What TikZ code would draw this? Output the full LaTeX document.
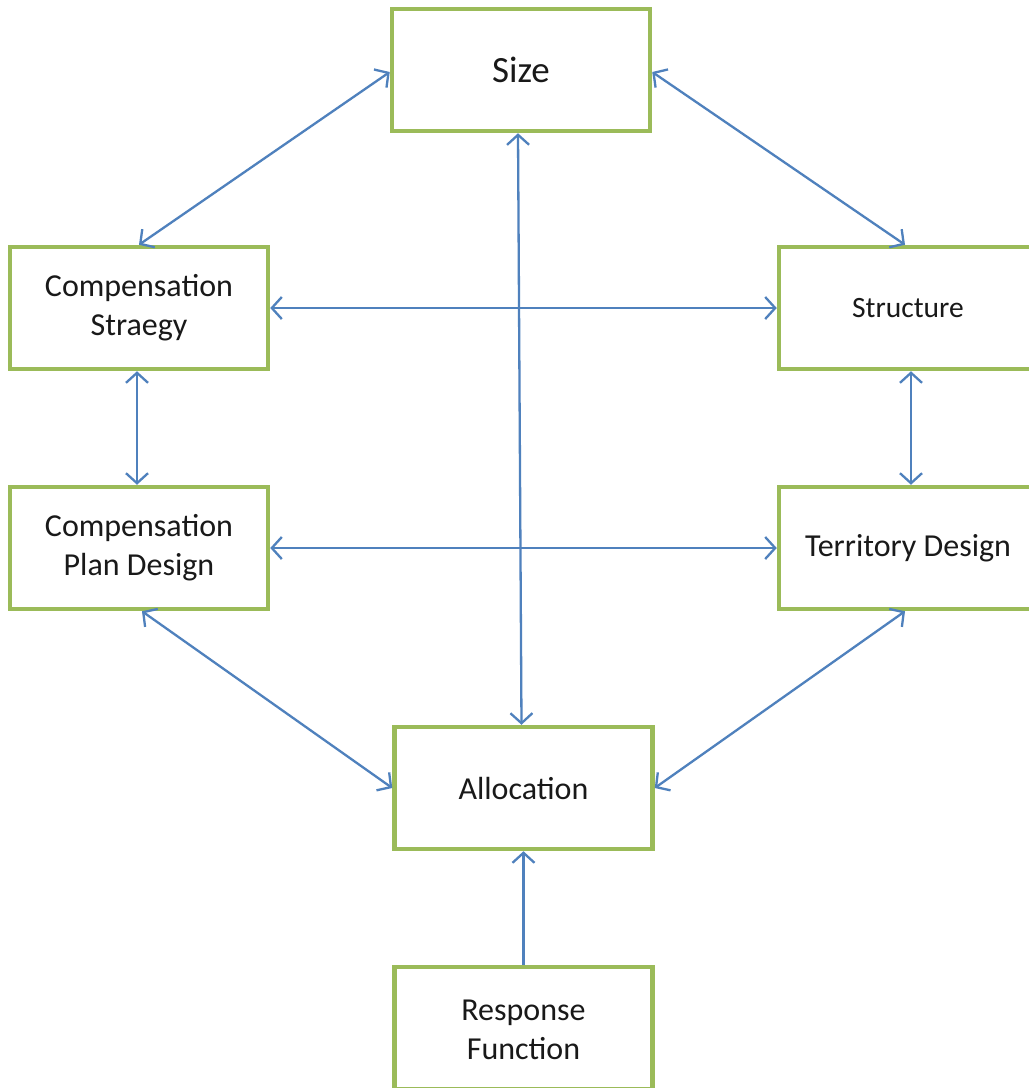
\documentclass[tikz,border=0pt]{standalone}
\usepackage{fontspec}
\setmainfont{Carlito}
\usetikzlibrary{arrows.meta}
\definecolor{boxgreen}{RGB}{155,187,89}
\definecolor{arrowblue}{RGB}{79,129,189}
\begin{document}
\begin{tikzpicture}[x=1pt,y=-1pt,
  box/.style={draw=boxgreen,line width=4.5pt,fill=white,minimum width=258pt,minimum height=122pt,inner sep=0pt,align=center,font=\fontsize{32}{39}\selectfont,text=black!90},
  link/.style={draw=arrowblue,line width=2.3pt,{Straight Barb[length=10pt,width=22pt,line width=2.3pt]}-{Straight Barb[length=10pt,width=22pt,line width=2.3pt]}},
  onelink/.style={draw=arrowblue,line width=2.3pt,-{Straight Barb[length=10pt,width=22pt,line width=2.3pt]}}]
\useasboundingbox[fill=white] (0,0) rectangle (1029,1088);
\node[box,font=\fontsize{37}{44}\selectfont] (size) at (521,70) {Size};
\node[box] (cs) at (139,308) {Compensation\\Straegy};
\node[box,font=\fontsize{29.5}{36}\selectfont] (st) at (908,308) {Structure};
\node[box] (cpd) at (139,548) {Compensation\\Plan Design};
\node[box] (td) at (908,548) {Territory Design};
\node[box] (al) at (523.5,788) {Allocation};
\node[box] (rf) at (523.5,1028) {};
\node[align=center,font=\fontsize{32}{39}\selectfont,text=black!90] (rft) at (523.5,1030) {Response\\Function};
\coordinate (sizeL) at (392,72);
\coordinate (sizeR) at (650,72);
\draw[link] (size.west |- sizeL) -- (cs.north);
\draw[link] (size.east |- sizeR) -- ([xshift=-3pt]st.north);
\draw[link] ([xshift=-3pt]size.south) -- ([xshift=-2pt]al.north);
\draw[link] (cs.east) -- (st.west);
\draw[link] ([xshift=-2pt]cs.south) -- ([xshift=-2pt]cpd.north);
\draw[link] ([xshift=3pt]st.south) -- ([xshift=3pt]td.north);
\draw[link] (cpd.east) -- (td.west);
\draw[link] ([xshift=3pt]cpd.south) -- (al.west);
\draw[link] ([xshift=-3pt]td.south) -- (al.east);
\draw[onelink] (rf.north) -- (al.south);
\end{tikzpicture}
\end{document}
